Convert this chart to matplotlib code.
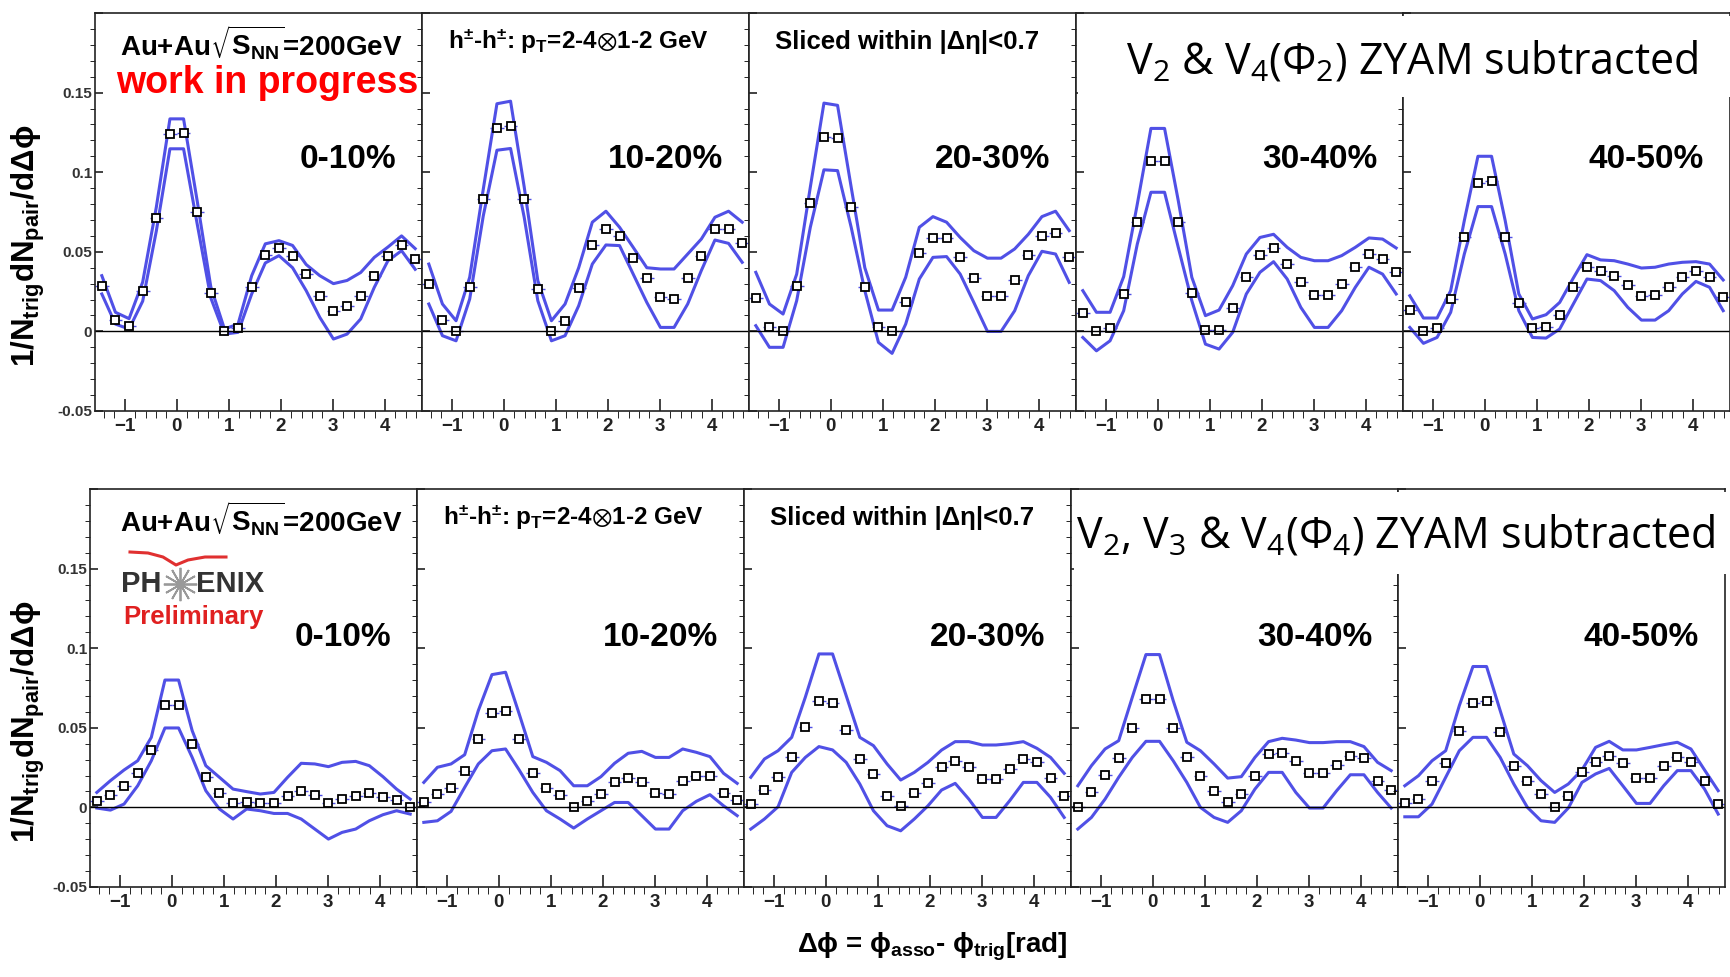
import matplotlib
matplotlib.use('Agg')
import matplotlib.pyplot as plt
import numpy as np
from matplotlib.patches import Rectangle
from matplotlib.lines import Line2D

plt.rcParams['font.family'] = ['Liberation Sans', 'DejaVu Sans']
plt.rcParams['mathtext.default'] = 'regular'

# bin centres in delta phi (24 bins over -pi/2 .. 3pi/2)
edges = np.linspace(-np.pi / 2, 3 * np.pi / 2, 25)
dphi = 0.5 * (edges[:-1] + edges[1:])

centralities = ['0-10%', '10-20%', '20-30%', '30-40%', '40-50%']

# ---- top row: v2 & v4(Psi2) subtracted ----
a_0010 = [0.0287, 0.0073, 0.0036, 0.0256, 0.0713, 0.1237, 0.1245, 0.0748, 0.0239, 0.0, 0.0019, 0.0281,
          0.048, 0.0524, 0.0472, 0.036, 0.0222, 0.013, 0.0159, 0.0222, 0.035, 0.0472, 0.0543, 0.0453]
a_0010_hi = [0.035, 0.012, 0.008, 0.031, 0.078, 0.1335, 0.1335, 0.082, 0.028, 0.0015, 0.0046, 0.035,
             0.055, 0.057, 0.054, 0.042, 0.035, 0.030, 0.032, 0.037, 0.0465, 0.053, 0.060, 0.052]
a_0010_lo = [0.0235, 0.0046, 0.0015, 0.019, 0.063, 0.1147, 0.1147, 0.0675, 0.021, -0.0017, -0.0006, 0.0235,
             0.043, 0.0476, 0.040, 0.0256, 0.0088, -0.0048, -0.0017, 0.0078, 0.0277, 0.0444, 0.0507, 0.039]

a_1020 = [0.0298, 0.0073, 0.0, 0.0277, 0.0834, 0.1277, 0.1291, 0.0834, 0.0266, 0.0, 0.0063, 0.027,
          0.0545, 0.0646, 0.0602, 0.0463, 0.0333, 0.0214, 0.0203, 0.0333, 0.0472, 0.0646, 0.0646, 0.0556]
a_1020_hi = [0.0423, 0.0172, 0.0067, 0.034, 0.0895, 0.143, 0.1446, 0.0908, 0.0319, 0.0067, 0.0172, 0.040,
             0.0686, 0.0755, 0.0654, 0.0528, 0.040, 0.0392, 0.0392, 0.0486, 0.058, 0.0717, 0.0755, 0.0686]
a_1020_lo = [0.0172, -0.0027, -0.0059, 0.0203, 0.0727, 0.1138, 0.1149, 0.0717, 0.0193, -0.0059, -0.0027, 0.0161,
             0.0423, 0.0543, 0.0539, 0.036, 0.0182, 0.0025, 0.0025, 0.0172, 0.0382, 0.0574, 0.0553, 0.0434]

a_2030 = [0.0208, 0.0029, 0.0, 0.0287, 0.0805, 0.122, 0.1216, 0.078, 0.0281, 0.0029, 0.0, 0.0182,
          0.049, 0.0585, 0.0585, 0.047, 0.0333, 0.0222, 0.0222, 0.0325, 0.0482, 0.0602, 0.0618, 0.0465]
a_2030_hi = [0.0371, 0.0172, 0.0109, 0.036, 0.0906, 0.1434, 0.142, 0.0906, 0.040, 0.0134, 0.0134, 0.034,
             0.0654, 0.0721, 0.0686, 0.059, 0.0507, 0.046, 0.046, 0.0518, 0.061, 0.0721, 0.0755, 0.0633]
a_2030_lo = [0.0036, -0.010, -0.010, 0.0193, 0.0654, 0.1015, 0.101, 0.0654, 0.0256, -0.0069, -0.0138, 0.0046,
             0.0329, 0.0465, 0.047, 0.036, 0.0182, 0.0, 0.0, 0.013, 0.035, 0.0503, 0.0486, 0.0308]

a_3040 = [0.0113, 0.0, 0.0019, 0.0235, 0.0686, 0.1073, 0.1073, 0.0686, 0.0241, 0.0008, 0.0008, 0.0149,
          0.0344, 0.048, 0.0526, 0.0423, 0.0312, 0.0231, 0.0231, 0.0296, 0.0407, 0.0488, 0.0455, 0.0371]
a_3040_hi = [0.0256, 0.012, 0.012, 0.0344, 0.080, 0.1275, 0.1275, 0.0824, 0.034, 0.0099, 0.0134, 0.0287,
             0.0486, 0.059, 0.061, 0.0528, 0.0465, 0.0444, 0.0444, 0.0476, 0.0528, 0.0587, 0.058, 0.0524]
a_3040_lo = [-0.0038, -0.0122, -0.0059, 0.013, 0.0549, 0.0874, 0.0874, 0.053, 0.0193, -0.008, -0.0111, -0.0006,
             0.0235, 0.0371, 0.0438, 0.0329, 0.0151, 0.0025, 0.0025, 0.013, 0.0277, 0.0403, 0.036, 0.0235]

a_4050 = [0.0134, 0.0, 0.0021, 0.0203, 0.0591, 0.0935, 0.0943, 0.0591, 0.0178, 0.0019, 0.0029, 0.0103,
          0.0277, 0.0407, 0.0379, 0.035, 0.0293, 0.0222, 0.0231, 0.0277, 0.0342, 0.0382, 0.0342, 0.0214]
a_4050_hi = [0.0224, 0.0084, 0.0084, 0.0256, 0.0696, 0.110, 0.110, 0.0696, 0.0235, 0.0078, 0.0105, 0.0182,
             0.0335, 0.0482, 0.0449, 0.0444, 0.0423, 0.0398, 0.0403, 0.0423, 0.0434, 0.0438, 0.0423, 0.0323]
a_4050_lo = [0.0025, -0.0075, -0.0038, 0.012, 0.0486, 0.0784, 0.0784, 0.0486, 0.013, -0.0038, -0.0042, 0.0015,
             0.0172, 0.0329, 0.0319, 0.0256, 0.0151, 0.0071, 0.0071, 0.013, 0.0235, 0.0314, 0.0277, 0.013]

# ---- bottom row: v2, v3 & v4(Psi4) subtracted ----
b_0010 = [0.0038, 0.0078, 0.0134, 0.0214, 0.0361, 0.0646, 0.0646, 0.0398, 0.0189, 0.0092, 0.0025, 0.0036,
          0.0029, 0.0029, 0.0073, 0.0101, 0.0075, 0.0029, 0.0055, 0.0073, 0.0092, 0.0067, 0.0046, 0.0]
b_0010_hi = [0.0094, 0.0168, 0.0235, 0.0293, 0.044, 0.080, 0.080, 0.0482, 0.0262, 0.0189, 0.0115, 0.0099,
             0.0084, 0.0094, 0.0189, 0.0277, 0.0273, 0.0256, 0.0283, 0.0289, 0.0262, 0.0193, 0.0115, 0.0052]
b_0010_lo = [-0.0004, -0.0017, 0.0021, 0.0136, 0.0293, 0.0499, 0.0499, 0.0314, 0.0105, -0.001, -0.0073, -0.001,
             -0.0021, -0.0038, -0.0038, -0.0073, -0.0136, -0.0199, -0.0157, -0.0136, -0.0084, -0.0046, -0.0021, -0.0042]

b_1020 = [0.0031, 0.0084, 0.0122, 0.0231, 0.0428, 0.0591, 0.0608, 0.0428, 0.0214, 0.0122, 0.0078, 0.0,
          0.0038, 0.0084, 0.0157, 0.0184, 0.0157, 0.0092, 0.0084, 0.0168, 0.0195, 0.0195, 0.0092, 0.0046]
b_1020_hi = [0.0157, 0.0252, 0.0273, 0.0331, 0.0608, 0.0834, 0.0849, 0.0587, 0.0319, 0.0283, 0.0231, 0.0136,
             0.0136, 0.0193, 0.0277, 0.034, 0.0352, 0.0314, 0.0314, 0.0367, 0.0346, 0.0319, 0.0214, 0.0151]
b_1020_lo = [-0.0094, -0.0084, -0.0025, 0.0126, 0.0273, 0.0356, 0.0367, 0.0235, 0.0094, -0.0021, -0.0073, -0.013,
             -0.0073, -0.0021, 0.0031, 0.0031, -0.0052, -0.0136, -0.0136, -0.0021, 0.0038, 0.008, 0.001, -0.0052]

b_2030 = [0.0021, 0.0109, 0.0189, 0.0314, 0.0507, 0.0671, 0.0656, 0.0489, 0.0304, 0.021, 0.0073, 0.001,
          0.0092, 0.0155, 0.0256, 0.0293, 0.0252, 0.0176, 0.0176, 0.0241, 0.0306, 0.0287, 0.0187, 0.0073]
b_2030_hi = [0.0189, 0.0304, 0.0356, 0.044, 0.0692, 0.0964, 0.0964, 0.0702, 0.044, 0.0388, 0.0273, 0.0172,
             0.022, 0.0283, 0.036, 0.0413, 0.0413, 0.0392, 0.0392, 0.040, 0.0413, 0.0371, 0.0314, 0.0214]
b_2030_lo = [-0.0136, -0.0073, 0.0004, 0.022, 0.0314, 0.0382, 0.0361, 0.0283, 0.0147, -0.0021, -0.0115, -0.0147,
             -0.0073, 0.001, 0.0109, 0.0151, 0.0052, -0.0063, -0.0063, 0.0042, 0.0157, 0.0157, 0.0063, -0.0063]

b_3040 = [0.0, 0.0094, 0.0205, 0.0308, 0.0499, 0.0683, 0.0683, 0.0499, 0.0314, 0.0195, 0.0101, 0.0036,
          0.0084, 0.0195, 0.0333, 0.0342, 0.0289, 0.0214, 0.0214, 0.0268, 0.0323, 0.031, 0.0168, 0.0111]
b_3040_hi = [0.0136, 0.0262, 0.0367, 0.0419, 0.0692, 0.096, 0.096, 0.0671, 0.0409, 0.0356, 0.0273, 0.0184,
             0.0193, 0.0314, 0.0413, 0.0434, 0.0423, 0.0407, 0.0407, 0.0413, 0.0413, 0.0382, 0.0283, 0.0231]
b_3040_lo = [-0.0136, -0.0063, 0.0052, 0.0189, 0.0314, 0.0415, 0.0415, 0.0293, 0.0157, 0.0, -0.0063, -0.0094,
             -0.0021, 0.0115, 0.022, 0.022, 0.0094, -0.0004, -0.0004, 0.0105, 0.0205, 0.0205, 0.0094, -0.0004]

b_4050 = [0.0027, 0.0052, 0.0168, 0.0277, 0.0482, 0.0656, 0.0667, 0.0472, 0.026, 0.0168, 0.0084, 0.0,
          0.0073, 0.0222, 0.0287, 0.0323, 0.0277, 0.0187, 0.0187, 0.026, 0.0314, 0.0287, 0.0168, 0.0021]
b_4050_hi = [0.0136, 0.0199, 0.0293, 0.0356, 0.0639, 0.0885, 0.0885, 0.0608, 0.0335, 0.0262, 0.0168, 0.0094,
             0.0147, 0.0235, 0.0377, 0.0415, 0.0361, 0.0361, 0.0377, 0.0394, 0.0409, 0.0367, 0.0235, 0.0105]
b_4050_lo = [-0.0059, -0.0059, 0.0021, 0.0189, 0.0356, 0.044, 0.044, 0.0314, 0.0147, 0.0, -0.0084, -0.0094,
             -0.0004, 0.0157, 0.021, 0.0245, 0.0136, 0.0025, 0.0025, 0.0136, 0.0231, 0.0231, 0.0115, -0.0042]

top_rows = [(a_0010, a_0010_hi, a_0010_lo), (a_1020, a_1020_hi, a_1020_lo), (a_2030, a_2030_hi, a_2030_lo),
            (a_3040, a_3040_hi, a_3040_lo), (a_4050, a_4050_hi, a_4050_lo)]
bot_rows = [(b_0010, b_0010_hi, b_0010_lo), (b_1020, b_1020_hi, b_1020_lo), (b_2030, b_2030_hi, b_2030_lo),
            (b_3040, b_3040_hi, b_3040_lo), (b_4050, b_4050_hi, b_4050_lo)]

W, H = 1730, 977
fig = plt.figure(figsize=(W / 100, H / 100), dpi=100)
band_col = '#5050e6'


def add_panel(left, top, data, first, label, label_y):
    ax = fig.add_axes([left / W, 1 - (top + 398) / H, 327 / W, 398 / H])
    pts, hi, lo = data
    ax.plot(dphi, hi, color=band_col, lw=2.2)
    ax.plot(dphi, lo, color=band_col, lw=2.2)
    ax.errorbar(dphi, pts, xerr=np.pi / 24, fmt='none', ecolor=band_col, elinewidth=1)
    ax.plot(dphi, pts, 's', ms=6.4, mfc='white', mec='black', mew=1.3)
    ax.axhline(0, color='black', lw=1)
    ax.set_xlim(-np.pi / 2, 3 * np.pi / 2)
    ax.set_ylim(-0.05, 0.2)
    ax.set_xticks([-1, 0, 1, 2, 3, 4])
    ax.set_xticks(np.arange(-1.4, 4.7, 0.2), minor=True)
    ax.set_yticks([-0.05, 0, 0.05, 0.1, 0.15, 0.2])
    ax.set_yticks(np.arange(-0.04, 0.2, 0.01), minor=True)
    ax.tick_params(direction='in', top=False, right=False, width=1.2, colors='#222')
    ax.tick_params(axis='x', which='major', length=9, pad=5, labelsize=13.5)
    ax.tick_params(axis='x', which='minor', length=5)
    ax.tick_params(axis='y', which='major', length=6, pad=2, labelsize=11)
    ax.tick_params(axis='y', which='minor', length=3.5)
    for lab in ax.get_xticklabels():
        lab.set_fontweight('bold')
    if first:
        ax.set_yticklabels(['-0.05', '0', '0.05', '0.1', '0.15', ''], fontweight='bold', color='#333')
    else:
        ax.set_yticklabels([])
    for s in ax.spines.values():
        s.set_linewidth(1.2)
        s.set_color('#222')
    fig.text((left + 327 - 26) / W, 1 - label_y / H, label, ha='right', va='center',
             fontsize=24, fontweight='bold')
    return ax


for i, d in enumerate(top_rows):
    add_panel(95 + 327 * i, 13, d, i == 0, centralities[i], 159)
for i, d in enumerate(bot_rows):
    add_panel(90 + 327 * i, 489, d, i == 0, centralities[i], 637)


def ftext(x, y, s, **kw):
    return fig.text(x / W, 1 - y / H, s, **kw)


# white boxes with the subtraction titles
fig.add_artist(Rectangle((1078 / W, 1 - 97 / H), (W - 1078) / W, 81 / H, transform=fig.transFigure,
                         facecolor='white', edgecolor='none', zorder=2.5))
fig.add_artist(Rectangle((1074 / W, 1 - 574 / H), (W - 1074) / W, 82 / H, transform=fig.transFigure,
                         facecolor='white', edgecolor='none', zorder=2.5))
ftext(1412, 62, 'V$_2$ & V$_4$(Φ$_2$) ZYAM subtracted', ha='center', va='center',
      fontsize=31, family='Open Sans', zorder=4)
ftext(1396, 536, 'V$_2$, V$_3$ & V$_4$(Φ$_4$) ZYAM subtracted', ha='center', va='center',
      fontsize=31, family='Open Sans', zorder=4)

# panel annotations
for ytop in (42, 518):
    ftext(120, ytop, r'Au+Au$\sqrt{S_{NN}}$=200GeV', ha='left', va='center', fontsize=20, fontweight='bold')
ftext(448, 42, r'h$^{\pm}$-h$^{\pm}$: p$_T$=2-4$\otimes$1-2 GeV', ha='left', va='center',
      fontsize=17.5, fontweight='bold')
ftext(443, 518, r'h$^{\pm}$-h$^{\pm}$: p$_T$=2-4$\otimes$1-2 GeV', ha='left', va='center',
      fontsize=17.5, fontweight='bold')
ftext(775, 42, 'Sliced within |Δη|<0.7', ha='left', va='center', fontsize=18.5, fontweight='bold')
ftext(770, 518, 'Sliced within |Δη|<0.7', ha='left', va='center', fontsize=18.5, fontweight='bold')
ftext(116, 83, 'work in progress', ha='left', va='center', fontsize=27, fontweight='bold', color='#ff0000')

# PHENIX preliminary logo
ftext(121, 584, 'PH', ha='left', va='center', fontsize=21, fontweight='bold', color='#333')
ftext(196, 584, 'ENIX', ha='left', va='center', fontsize=21, fontweight='bold', color='#333')
fig.add_artist(Line2D([180 / W], [1 - 584 / H], marker=(12, 2, 0), ms=24, mew=1.3, color='#999',
                      transform=fig.transFigure))
arc_x = np.array([130, 148, 163, 176, 188, 205, 226])
arc_y = np.array([552, 553, 557, 565, 560, 557, 557])
fig.add_artist(Line2D(arc_x / W, 1 - arc_y / H, color='#e03030', lw=2.2, transform=fig.transFigure))
ftext(123, 617, 'Preliminary', ha='left', va='center', fontsize=18.5, fontweight='bold', color='#e02020')

# axis titles
ylab = r'1/N$_{trig}$dN$_{pair}$/dΔ$\phi$'
ftext(28, 246, ylab, rotation=90, ha='center', va='center', fontsize=22.5, fontweight='bold')
ftext(28, 722, ylab, rotation=90, ha='center', va='center', fontsize=22.5, fontweight='bold')
ftext(932, 947, r'Δ$\phi$ = $\phi_{asso}$- $\phi_{trig}$[rad]', ha='center', va='center',
      fontsize=20, fontweight='bold')

fig.savefig('out.png', dpi=100, facecolor='white')
